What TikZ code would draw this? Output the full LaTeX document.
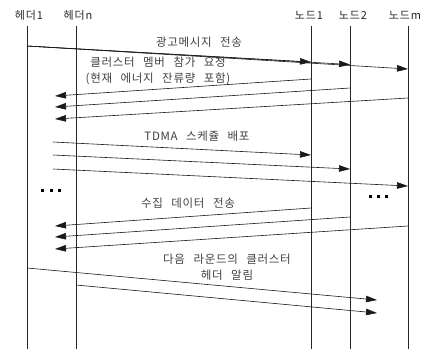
\documentclass[tikz,border=0pt]{standalone}
\usepackage{fontspec}
\newfontfamily\krl[LetterSpace=6,WordSpace=2.6]{Noto Sans CJK KR}
\newfontfamily\krh[LetterSpace=8]{Noto Sans CJK KR}
\usetikzlibrary{arrows.meta}
\begin{document}
\begin{tikzpicture}[x=1pt,y=-1pt,
  lifeline/.style={line width=0.9pt, black!85},
  msg/.style={line width=0.6pt, black!90, -{Triangle[length=11pt,width=6.5pt]}},
  lbl/.style={font=\krl\fontsize{11.5}{16}\selectfont, text=black!75, inner sep=0pt, align=center},
  head/.style={font=\krh\fontsize{11}{12}\selectfont, text=black!85, inner sep=0pt},
  dots/.style={inner sep=0pt, text=black}]
\useasboundingbox (0,0) rectangle (428,349);
% headings
\node[head] (H1) at (29,15) {헤더1};
\node[head] (Hn) at (78,15) {헤더n};
\node[head] (N1) at (309,15) {노드1};
\node[head] (N2) at (353,15) {노드2};
\node[head] (Nm) at (405,15) {노드m};
% lifelines
\coordinate (h1t) at (27,26);  \coordinate (h1b) at (27,349);
\coordinate (hnt) at (76,26);  \coordinate (hnb) at (76,349);
\coordinate (n1t) at (311,26); \coordinate (n1b) at (311,349);
\coordinate (n2t) at (350,26); \coordinate (n2b) at (350,349);
\coordinate (nmt) at (408,26); \coordinate (nmb) at (408,349);
\foreach \l in {h1,hn,n1,n2,nm} \draw[lifeline] (\l t) -- (\l b);
% advertisement
\coordinate (a0) at (27,46);
\coordinate (a1) at (311,62);
\coordinate (a2) at (350,64.5);
\coordinate (a3) at (408,69);
\draw[msg] (a0) -- (a1);
\draw[msg] (a0) -- (a2);
\draw[msg] (a0) -- (a3);
\node[lbl] (La) at (199,42) {광고메시지 전송};
% join request
\node[lbl] (Lb) at (158,70.5) {클러스터 멤버 참가 요청\\(현재 에너지 잔류량 포함)};
\coordinate (b1s) at (311,79);  \coordinate (b1e) at (55,96);
\coordinate (b2s) at (350,88);  \coordinate (b2e) at (55,107);
\coordinate (b3s) at (408,98);  \coordinate (b3e) at (55,119);
\draw[msg] (b1s) -- (b1e);
\draw[msg] (b2s) -- (b2e);
\draw[msg] (b3s) -- (b3e);
% TDMA
\node[lbl] (Lc) at (197,136) {TDMA 스케쥴 배포};
\coordinate (c1s) at (53,142); \coordinate (c1e) at (311,155);
\coordinate (c2s) at (53,155); \coordinate (c2e) at (350,169);
\coordinate (c3s) at (53,169); \coordinate (c3e) at (408,186);
\draw[msg] (c1s) -- (c1e);
\draw[msg] (c2s) -- (c2e);
\draw[msg] (c3s) -- (c3e);
% dots
\node[dots] (DL) at (51,190) {\rule{3pt}{3pt}\hspace{5pt}\rule{3pt}{3pt}\hspace{5pt}\rule{3pt}{3pt}};
\node[dots] (DR) at (378,196) {\rule{3pt}{3pt}\hspace{5pt}\rule{3pt}{3pt}\hspace{5pt}\rule{3pt}{3pt}};
% data
\node[lbl] (Ld) at (188,203) {수집 데이터 전송};
\coordinate (d1s) at (311,208); \coordinate (d1e) at (55,226);
\coordinate (d2s) at (350,217); \coordinate (d2e) at (55,237);
\coordinate (d3s) at (408,226); \coordinate (d3e) at (55,249);
\draw[msg] (d1s) -- (d1e);
\draw[msg] (d2s) -- (d2e);
\draw[msg] (d3s) -- (d3e);
% next round
\node[lbl] (Le) at (227,267.5) {다음 라운드의 클러스터\\헤더 알림};
\coordinate (e1s) at (27,268); \coordinate (e1e) at (377,300);
\coordinate (e2s) at (76,285); \coordinate (e2e) at (377,313);
\draw[msg] (e1s) -- (e1e);
\draw[msg] (e2s) -- (e2e);
\end{tikzpicture}
\end{document}
